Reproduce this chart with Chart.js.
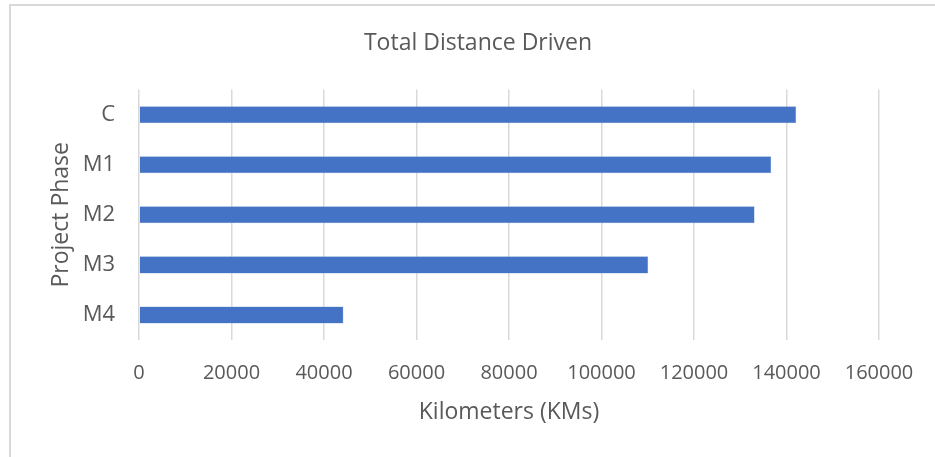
<!DOCTYPE html>
<html>
<head>
<meta charset="utf-8">
<script src="https://cdn.jsdelivr.net/npm/chart.js@4/dist/chart.umd.min.js"></script>
<style>
  html, body { margin: 0; padding: 0; background: #ffffff; }
  #wrap { position: relative; width: 935px; height: 457px; overflow: hidden; }
  #frame { position: absolute; left: 9px; top: 4px; width: 960px; height: 480px; border: 2px solid #d9d9d9; box-sizing: border-box; }
  canvas { position: absolute; left: 0; top: 0; }
</style>
</head>
<body>
<div id="wrap">
  <div id="frame"></div>
  <canvas id="chart" width="935" height="457"></canvas>
</div>
<script>
// Project phases, top to bottom
const phases = ['C', 'M1', 'M2', 'M3', 'M4'];
// Total kilometres driven in each phase
const distanceKm = [142100, 136700, 133100, 110100, 44200];
// Axis range and step
const axisMin = 0;
const axisMax = 160000;
const axisStep = 20000;

const textColor = '#595959';
const fontFamily = '"Open Sans", "Liberation Sans", sans-serif';

new Chart(document.getElementById('chart'), {
  type: 'bar',
  data: {
    labels: phases,
    datasets: [{
      label: 'Total Distance Driven',
      data: distanceKm,
      backgroundColor: '#4472C4',
      borderColor: '#8faadc',
      borderWidth: 0.5,
      categoryPercentage: 1,
      barPercentage: 0.34
    }]
  },
  options: {
    indexAxis: 'y',
    responsive: false,
    animation: false,
    layout: { padding: { left: 48, right: 27, top: 0, bottom: 0 } },
    plugins: {
      legend: { display: false },
      tooltip: { enabled: false },
      title: {
        display: true,
        text: 'Total Distance Driven',
        color: textColor,
        font: { family: fontFamily, size: 23, weight: 'normal' },
        padding: { top: 30, bottom: 32 }
      }
    },
    scales: {
      x: {
        min: axisMin,
        max: axisMax,
        ticks: {
          stepSize: axisStep,
          color: textColor,
          font: { family: fontFamily, size: 20 },
          padding: 21,
          maxRotation: 0,
          callback: (v) => String(v)
        },
        grid: { color: '#d9d9d9', lineWidth: 1.5, drawTicks: false },
        border: { display: false },
        title: {
          display: true,
          text: 'Kilometers (KMs)',
          color: textColor,
          font: { family: fontFamily, size: 23 },
          padding: { top: 0, bottom: 31 }
        },
        afterFit: (s) => { s.height = 117; }
      },
      y: {
        ticks: {
          color: textColor,
          font: { family: fontFamily, size: 22 },
          padding: 24
        },
        grid: { display: false, drawTicks: false },
        border: { display: false },
        title: {
          display: true,
          text: 'Project Phase',
          color: textColor,
          font: { family: fontFamily, size: 23 },
          padding: { top: 0, bottom: 0 }
        },
        afterFit: (s) => { s.width = 91; }
      },
      // empty right-hand margin box so the plot ends before the frame's right side
      rightMargin: {
        type: 'linear',
        position: 'right',
        display: true,
        ticks: { display: false },
        grid: { display: false, drawTicks: false },
        border: { display: false },
        afterFit: (s) => { s.width = 29; }
      }
    }
  }
});
</script>
</body>
</html>
